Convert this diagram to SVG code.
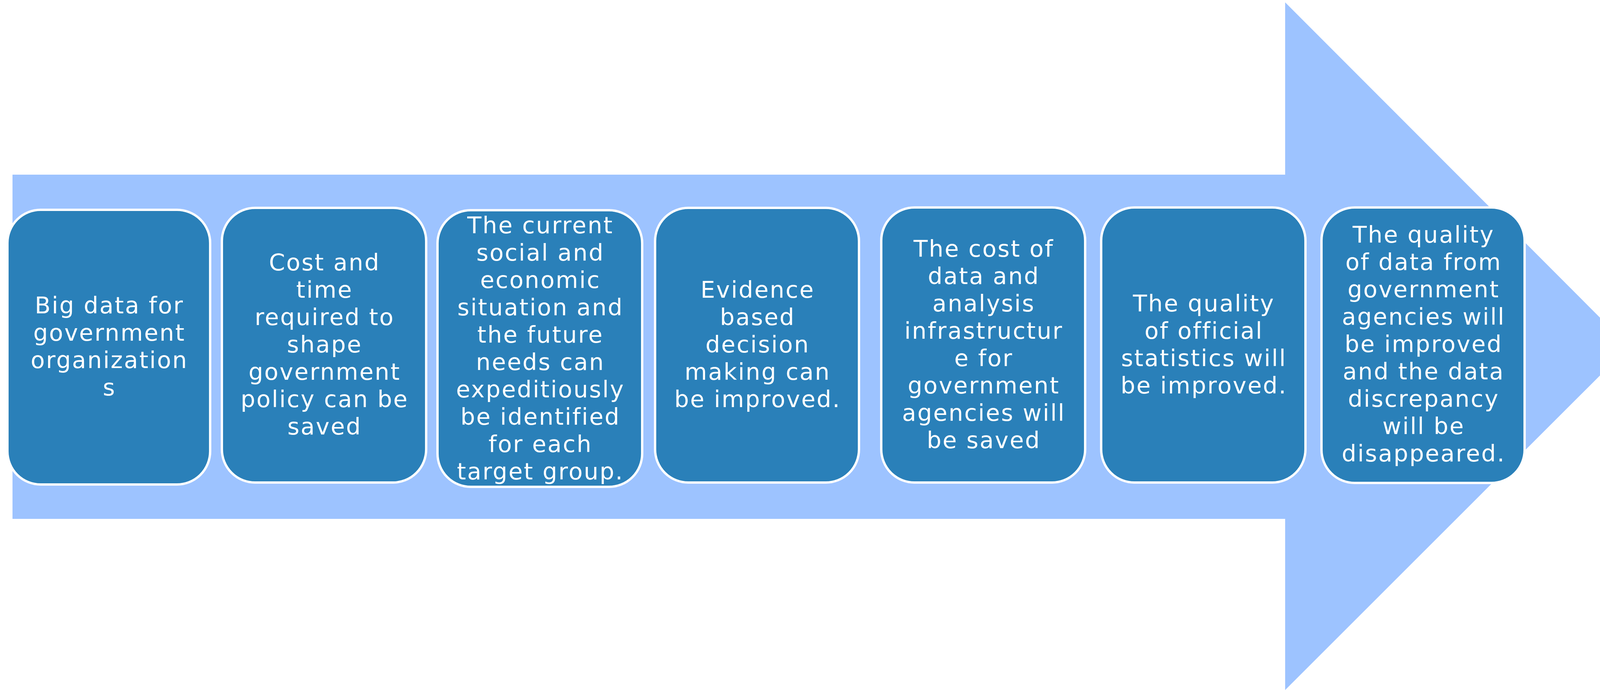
<svg xmlns="http://www.w3.org/2000/svg" width="4172" height="1766" viewBox="0 0 4172 1766">
<style>
.box{fill:#2A80B9;stroke:#FFFFFF;stroke-width:6}
.lbl{font-family:"DejaVu Sans","Liberation Sans",sans-serif;font-size:59px;letter-spacing:3px;fill:#FFFFFF;text-anchor:middle}
</style>
<rect width="4172" height="1766" fill="#FFFFFF"/>
<g id="arrow">
<polygon points="32,447 3290,447 3290,6 4170,887 3290,1766 3290,1328 32,1328" fill="#9DC3FF"/>
</g>
<g id="connectors"></g>
<g id="node1">
<rect class="box" x="19" y="537" width="519" height="703" rx="85" ry="85"/>
<text class="lbl" y="802"><tspan x="280">Big data for</tspan><tspan x="280" dy="70">government</tspan><tspan x="280" dy="70">organization</tspan><tspan x="280" dy="70">s</tspan></text>
</g>
<g id="node2">
<rect class="box" x="568" y="532" width="523" height="703" rx="85" ry="85"/>
<text class="lbl" y="692"><tspan x="831">Cost and</tspan><tspan x="831" dy="70">time</tspan><tspan x="831" dy="70">required to</tspan><tspan x="831" dy="70">shape</tspan><tspan x="831" dy="70">government</tspan><tspan x="831" dy="70">policy can be</tspan><tspan x="831" dy="70">saved</tspan></text>
</g>
<g id="node3">
<rect class="box" x="1120" y="538" width="524" height="708" rx="85" ry="85"/>
<text class="lbl" y="597"><tspan x="1383.5">The current</tspan><tspan x="1383.5" dy="70">social and</tspan><tspan x="1383.5" dy="70">economic</tspan><tspan x="1383.5" dy="70">situation and</tspan><tspan x="1383.5" dy="70">the future</tspan><tspan x="1383.5" dy="70">needs can</tspan><tspan x="1383.5" dy="70">expeditiously</tspan><tspan x="1383.5" dy="70">be identified</tspan><tspan x="1383.5" dy="70">for each</tspan><tspan x="1383.5" dy="70">target group.</tspan></text>
</g>
<g id="node4">
<rect class="box" x="1677" y="532" width="522" height="703" rx="85" ry="85"/>
<text class="lbl" y="762"><tspan x="1939.5">Evidence</tspan><tspan x="1939.5" dy="70">based</tspan><tspan x="1939.5" dy="70">decision</tspan><tspan x="1939.5" dy="70">making can</tspan><tspan x="1939.5" dy="70">be improved.</tspan></text>
</g>
<g id="node5">
<rect class="box" x="2256" y="531" width="522" height="704" rx="85" ry="85"/>
<text class="lbl" y="657"><tspan x="2518.5">The cost of</tspan><tspan x="2518.5" dy="70">data and</tspan><tspan x="2518.5" dy="70">analysis</tspan><tspan x="2518.5" dy="70">infrastructur</tspan><tspan x="2518.5" dy="70">e for</tspan><tspan x="2518.5" dy="70">government</tspan><tspan x="2518.5" dy="70">agencies will</tspan><tspan x="2518.5" dy="70">be saved</tspan></text>
</g>
<g id="node6">
<rect class="box" x="2819" y="531" width="523" height="704" rx="85" ry="85"/>
<text class="lbl" y="797"><tspan x="3082">The quality</tspan><tspan x="3082" dy="70">of official</tspan><tspan x="3082" dy="70">statistics will</tspan><tspan x="3082" dy="70">be improved.</tspan></text>
</g>
<g id="node7">
<rect class="box" x="3383" y="531" width="520" height="705" rx="85" ry="85"/>
<text class="lbl" y="621"><tspan x="3644.5">The quality</tspan><tspan x="3644.5" dy="70">of data from</tspan><tspan x="3644.5" dy="70">government</tspan><tspan x="3644.5" dy="70">agencies will</tspan><tspan x="3644.5" dy="70">be improved</tspan><tspan x="3644.5" dy="70">and the data</tspan><tspan x="3644.5" dy="70">discrepancy</tspan><tspan x="3644.5" dy="70">will be</tspan><tspan x="3644.5" dy="70">disappeared.</tspan></text>
</g>
</svg>
